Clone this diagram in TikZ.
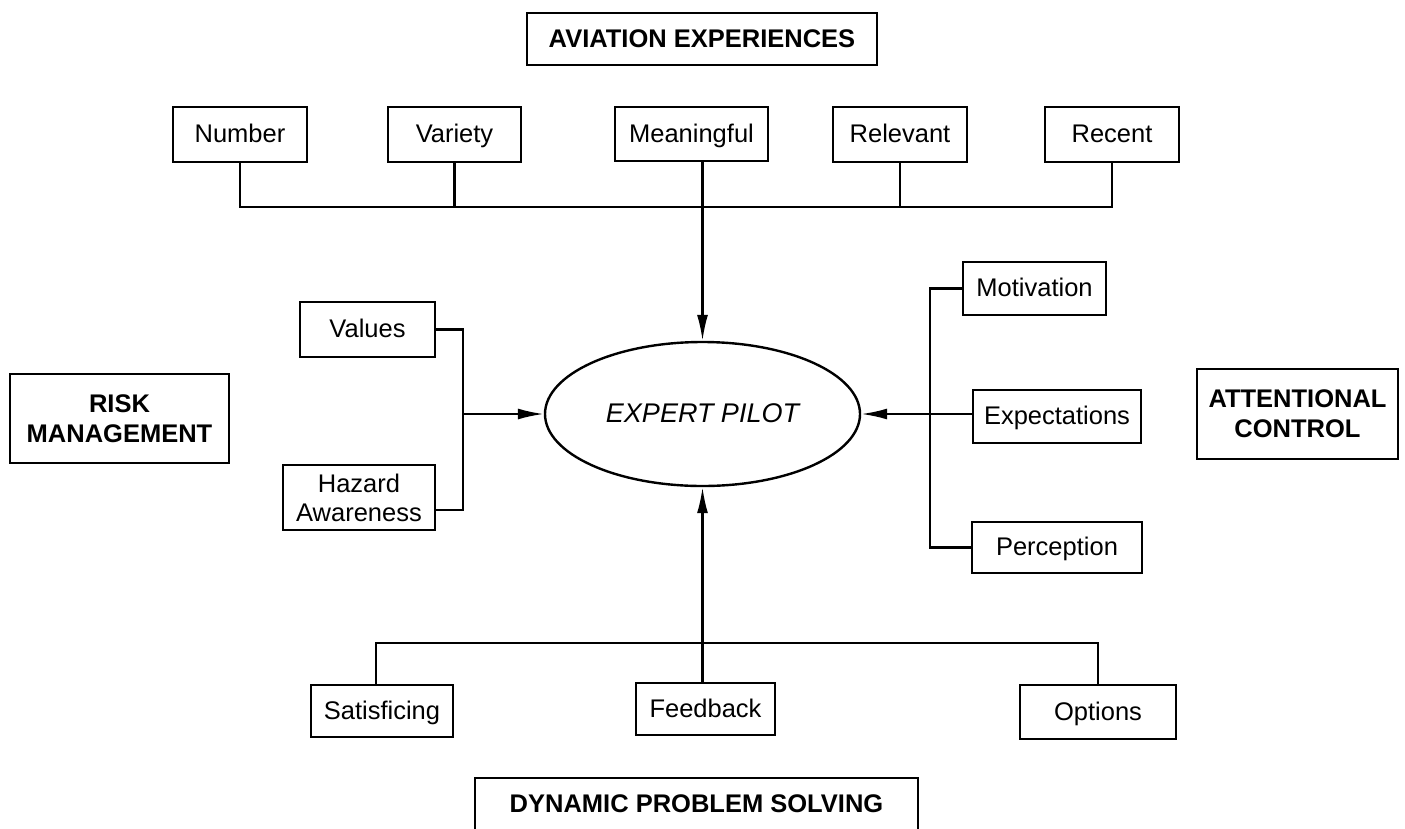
\documentclass[tikz,border=0pt]{standalone}
\usepackage{fontspec}
\setmainfont{Liberation Sans}
\usetikzlibrary{arrows.meta,shapes.geometric,calc}
\begin{document}
\begin{tikzpicture}[x=1pt,y=-1pt,
  font=\fontsize{25.5}{29}\selectfont,
  itembox/.style={draw,line width=2pt,inner sep=0pt,align=center},
  oneline/.style={text height=21pt,text depth=5pt},
  titlebox/.style={draw,line width=1.8pt,inner sep=0pt,align=center,font=\fontsize{25.5}{30}\selectfont\bfseries},
  conn/.style={line width=2.2pt},
  arr/.style={line width=2.2pt,-{Latex[length=26pt,width=11pt]}}]
\useasboundingbox (0,0) rectangle (1405,828);

% titles
\node[titlebox,oneline,minimum width=350pt,minimum height=52pt] (aviation) at (702,39) {AVIATION EXPERIENCES};
\node[titlebox,minimum width=219pt,minimum height=89pt] (risk) at (119.5,418.5) {RISK\\MANAGEMENT};
\node[titlebox,minimum width=201pt,minimum height=90pt] (attn) at (1297.5,414) {ATTENTIONAL\\CONTROL};
\node[titlebox,oneline,minimum width=443pt,minimum height=52pt] (dyn) at (696.5,804) {DYNAMIC PROBLEM SOLVING};

% centre
\node[draw,ellipse,line width=2.4pt,inner sep=0pt,minimum width=315pt,minimum height=144pt,text height=21pt,text depth=5pt,font=\fontsize{27}{30}\selectfont\itshape] (pilot) at (702.5,414) {EXPERT PILOT};

% top row
\node[itembox,oneline,minimum width=134pt,minimum height=55pt] (number) at (240,134.5) {Number};
\node[itembox,oneline,minimum width=133pt,minimum height=55pt] (variety) at (454.5,134.5) {Variety};
\node[itembox,oneline,minimum width=153pt,minimum height=54pt] (meaningful) at (691.5,134) {Meaningful};
\node[itembox,oneline,minimum width=134pt,minimum height=55pt] (relevant) at (900,134.5) {Relevant};
\node[itembox,oneline,minimum width=134pt,minimum height=55pt] (recent) at (1112,134.5) {Recent};

\coordinate (tbus) at (0,207);
\draw[conn] (number.south) -- (number.south |- tbus) -- (recent.south |- tbus) -- (recent.south);
\draw[conn] (variety.south) -- (variety.south |- tbus);
\draw[conn] (relevant.south) -- (relevant.south |- tbus);
\draw[arr] (pilot.north |- meaningful.south) -- (pilot.north);

% left
\node[itembox,oneline,minimum width=135pt,minimum height=55pt] (values) at (367.5,329.5) {Values};
\node[itembox,minimum width=152pt,minimum height=65pt] (hazard) at (359,497.5) {Hazard\\Awareness};
\coordinate (lv) at (463,329.5);
\coordinate (lh) at (463,510);
\draw[conn] (values.east) -- (lv) -- (lh) -- (hazard.east |- lh);
\draw[arr] (lv |- pilot.west) -- (pilot.west);

% right
\node[itembox,oneline,minimum width=143pt,minimum height=53pt] (motivation) at (1034.5,288.5) {Motivation};
\node[itembox,oneline,minimum width=168pt,minimum height=53pt] (expect) at (1057,416) {Expectations};
\node[itembox,oneline,minimum width=170pt,minimum height=51pt] (percep) at (1057,547.5) {Perception};
\coordinate (rv) at (930,0);
\draw[conn] (motivation.west) -- (rv |- motivation.west) -- (rv |- percep.west) -- (percep.west);
\draw[arr] (expect.west |- pilot.east) -- (pilot.east);

% bottom
\node[itembox,oneline,minimum width=142pt,minimum height=52pt] (satis) at (382,711) {Satisficing};
\node[itembox,oneline,minimum width=139pt,minimum height=52pt] (feedback) at (705.5,709) {Feedback};
\node[itembox,oneline,minimum width=156pt,minimum height=54pt] (options) at (1098,712) {Options};
\coordinate (bl) at (376,643);
\draw[conn] (bl |- satis.north) -- (bl) -- (options.north |- bl) -- (options.north);
\draw[arr] (pilot.south |- feedback.north) -- (pilot.south);
\end{tikzpicture}
\end{document}
